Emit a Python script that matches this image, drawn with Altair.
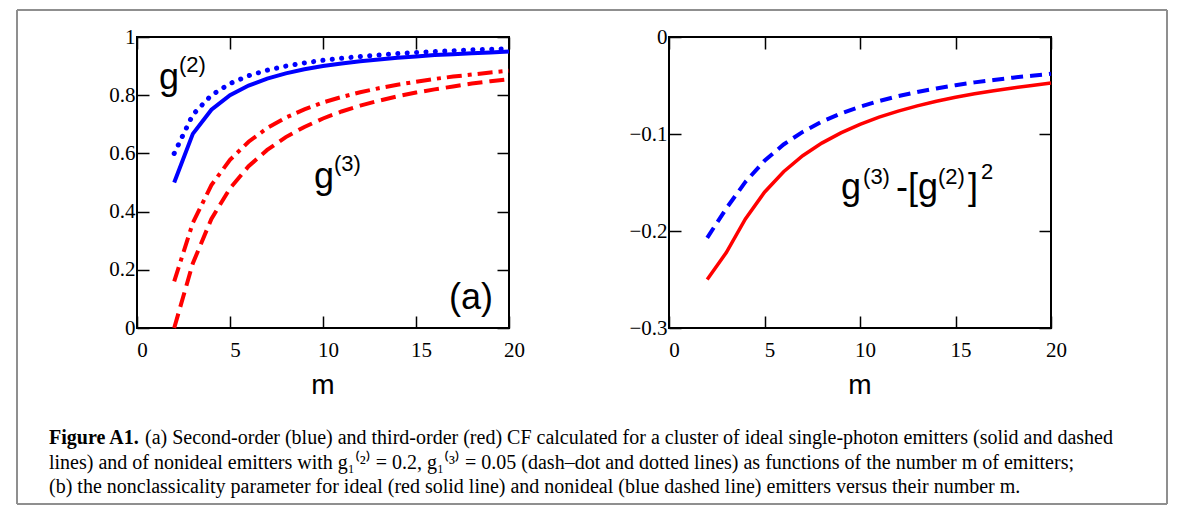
import altair as alt
import pandas as pd

# ---------------- data ----------------
m_vals = list(range(2, 21))
g2_ideal = [0.500, 0.667, 0.750, 0.800, 0.833, 0.857, 0.875, 0.889, 0.900, 0.909,
            0.917, 0.923, 0.929, 0.933, 0.938, 0.941, 0.944, 0.947, 0.950]
g2_nonideal = [0.600, 0.733, 0.800, 0.840, 0.867, 0.886, 0.900, 0.911, 0.920, 0.927,
               0.933, 0.938, 0.943, 0.947, 0.950, 0.953, 0.956, 0.958, 0.960]
g3_ideal = [0.000, 0.222, 0.375, 0.480, 0.556, 0.612, 0.656, 0.691, 0.720, 0.744,
            0.764, 0.781, 0.796, 0.809, 0.820, 0.830, 0.840, 0.848, 0.855]
g3_nonideal = [0.160, 0.361, 0.491, 0.578, 0.640, 0.687, 0.723, 0.751, 0.775, 0.794,
               0.810, 0.824, 0.836, 0.846, 0.856, 0.864, 0.871, 0.878, 0.884]
nc_ideal = [-0.2500, -0.2222, -0.1875, -0.1600, -0.1389, -0.1224, -0.1094, -0.0988, -0.0900,
            -0.0826, -0.0764, -0.0710, -0.0663, -0.0622, -0.0586, -0.0554, -0.0525, -0.0499,
            -0.0475]
nc_nonideal = [-0.2070, -0.1767, -0.1494, -0.1276, -0.1108, -0.0978, -0.0873, -0.0789, -0.0719,
               -0.0660, -0.0610, -0.0567, -0.0530, -0.0497, -0.0468, -0.0443, -0.0419, -0.0399,
               -0.0380]

x_ticks = [0, 5, 10, 15, 20]
ya_ticks = [0, 0.2, 0.4, 0.6, 0.8, 1]
yb_ticks = [-0.3, -0.2, -0.1, 0]

ann_a_text = ["g", "(2)", "g", "(3)", "(a)"]
ann_a_m = [1.18, 2.26, 9.52, 10.59, 16.77]
ann_a_v = [0.821, 0.880, 0.481, 0.540, 0.067]
ann_a_size = [36, 22, 36, 22, 36]

ann_b_text = ["g", "(3)", "-[g", "(2)", "]", "2"]
ann_b_m = [9.00, 10.16, 11.88, 14.08, 15.65, 16.34]
ann_b_v = [-0.167, -0.1515, -0.167, -0.1515, -0.167, -0.1464]
ann_b_size = [36, 22, 36, 22, 36, 22]

x_title = "m"
caption_bold = "Figure A1."
caption_lines = [
    "(a) Second-order (blue) and third-order (red) CF calculated for a cluster of ideal single-photon emitters (solid and dashed",
    "lines) and of nonideal emitters with g\u2081\u207d\u00b2\u207e = 0.2, g\u2081\u207d\u00b3\u207e = 0.05 (dash\u2013dot and dotted lines) as functions of the number m of emitters;",
    "(b) the nonclassicality parameter for ideal (red solid line) and nonideal (blue dashed line) emitters versus their number m.",
]

# ---------------- styling ----------------
W_A, W_B, H = 372, 382, 291
INSET = 12
SERIF = "Liberation Serif"
SANS = "Liberation Sans"
BLUE = "#0000ff"
RED = "#ff0000"
BOX = "#8f8f8f"
CAP_SIZE = 20

dfa = pd.DataFrame({"m": m_vals, "g2i": g2_ideal, "g2n": g2_nonideal,
                    "g3i": g3_ideal, "g3n": g3_nonideal})
dfb = pd.DataFrame({"m": m_vals, "nci": nc_ideal, "ncn": nc_nonideal})
ann_a = pd.DataFrame({"m": ann_a_m, "v": ann_a_v, "t": ann_a_text, "s": ann_a_size})
ann_b = pd.DataFrame({"m": ann_b_m, "v": ann_b_v, "t": ann_b_text, "s": ann_b_size})
one = pd.DataFrame({"k": [0]})


def xs():
    return alt.Scale(domain=[0, 20], nice=False, zero=False)


def axis_common():
    return dict(offset=-INSET, tickSize=INSET, domain=False, grid=False, title=None,
                tickColor="black", tickWidth=1.5, labelFont=SERIF, labelFontSize=21,
                labelColor="black", labelFlush=False, labelOverlap=False)


def x_main():
    return alt.Axis(values=x_ticks, orient="bottom", labelPadding=11, labelOffset=5,
                    format="d", **axis_common())


def x_mirror():
    return alt.Axis(values=x_ticks, orient="top", labels=False, **axis_common())


def y_main(vals):
    return alt.Axis(values=vals, orient="left", labelPadding=2, format="~g", **axis_common())


def y_mirror(vals):
    return alt.Axis(values=vals, orient="right", labels=False, **axis_common())


def line(df, col, color, ys, xaxis, yaxis, dash=None, width=4, cap="butt"):
    kw = dict(color=color, strokeWidth=width, strokeCap=cap, clip=False)
    if dash is not None:
        kw["strokeDash"] = dash
    return alt.Chart(df).mark_line(**kw).encode(
        x=alt.X("m:Q", scale=xs(), axis=xaxis),
        y=alt.Y(f"{col}:Q", scale=ys, axis=yaxis),
    )


def annotations(df, ys):
    return alt.Chart(df).mark_text(align="left", baseline="alphabetic", font=SANS,
                                   color="black").encode(
        x=alt.X("m:Q", scale=xs(), axis=None),
        y=alt.Y("v:Q", scale=ys, axis=None),
        text="t:N",
        size=alt.Size("s:Q", scale=None, legend=None),
    )


def title_text(cx):
    return alt.Chart(one).mark_text(align="center", baseline="alphabetic", font=SANS,
                                    fontSize=28, color="black", text=x_title).encode(
        x=alt.value(cx), y=alt.value(357))


# ---------------- panel (a) ----------------
ya = alt.Scale(domain=[0, 1], nice=False, zero=False)
panel_a_layers = [
    line(dfa, "g2n", BLUE, ya, x_main(), y_main(ya_ticks), dash=[0.1, 9.3], width=5, cap="round"),
    line(dfa, "g2i", BLUE, ya, x_mirror(), y_mirror(ya_ticks), width=4),
    line(dfa, "g3n", RED, ya, None, None, dash=[15, 6, 4, 6], width=4),
    line(dfa, "g3i", RED, ya, None, None, dash=[15, 7], width=4),
    annotations(ann_a, ya),
    title_text(W_A / 2),
]

# frame box + caption (pixel positions relative to panel (a) plot origin)
L, R, T, B = -120, 1030, -27, 467
box = [
    alt.Chart(one).mark_rule(color=BOX, strokeWidth=2).encode(
        x=alt.value(L), y=alt.value(T), y2=alt.value(B)),
    alt.Chart(one).mark_rule(color=BOX, strokeWidth=2).encode(
        x=alt.value(R), y=alt.value(T), y2=alt.value(B)),
    alt.Chart(one).mark_rule(color=BOX, strokeWidth=2).encode(
        x=alt.value(L), x2=alt.value(R), y=alt.value(T)),
    alt.Chart(one).mark_rule(color=BOX, strokeWidth=2).encode(
        x=alt.value(L), x2=alt.value(R), y=alt.value(B)),
]
cap_y = [407, 431.5, 456]
CAP_X = -88
caption = [
    alt.Chart(one).mark_text(align="left", baseline="alphabetic", font=SERIF,
                             fontSize=CAP_SIZE, fontWeight="bold", color="black",
                             text=caption_bold).encode(x=alt.value(CAP_X), y=alt.value(cap_y[0])),
    alt.Chart(one).mark_text(align="left", baseline="alphabetic", font=SERIF,
                             fontSize=CAP_SIZE, color="black",
                             text=caption_lines[0]).encode(x=alt.value(CAP_X + 96), y=alt.value(cap_y[0])),
    alt.Chart(one).mark_text(align="left", baseline="alphabetic", font=SERIF,
                             fontSize=CAP_SIZE, color="black",
                             text=caption_lines[1]).encode(x=alt.value(CAP_X), y=alt.value(cap_y[1])),
    alt.Chart(one).mark_text(align="left", baseline="alphabetic", font=SERIF,
                             fontSize=CAP_SIZE, color="black",
                             text=caption_lines[2]).encode(x=alt.value(CAP_X), y=alt.value(cap_y[2])),
]

panel_a = alt.layer(*(panel_a_layers + box + caption)).resolve_axis(
    x="independent", y="independent").properties(width=W_A, height=H)

# ---------------- panel (b) ----------------
yb = alt.Scale(domain=[-0.3, 0], nice=False, zero=False)
panel_b = alt.layer(
    line(dfb, "nci", RED, yb, x_main(), y_main(yb_ticks), width=3.5),
    line(dfb, "ncn", BLUE, yb, x_mirror(), y_mirror(yb_ticks), dash=[12, 7], width=4),
    annotations(ann_b, yb),
    title_text(W_B / 2),
).resolve_axis(x="independent", y="independent").properties(width=W_B, height=H)

chart = alt.hconcat(panel_a, panel_b, spacing=160, bounds="flush").properties(
    padding={"left": 7, "top": 0, "right": 0, "bottom": 0},
    background="white",
).configure_view(stroke="black", strokeWidth=2)

chart.save("out.html", embed_options={"renderer": "svg", "actions": False})
